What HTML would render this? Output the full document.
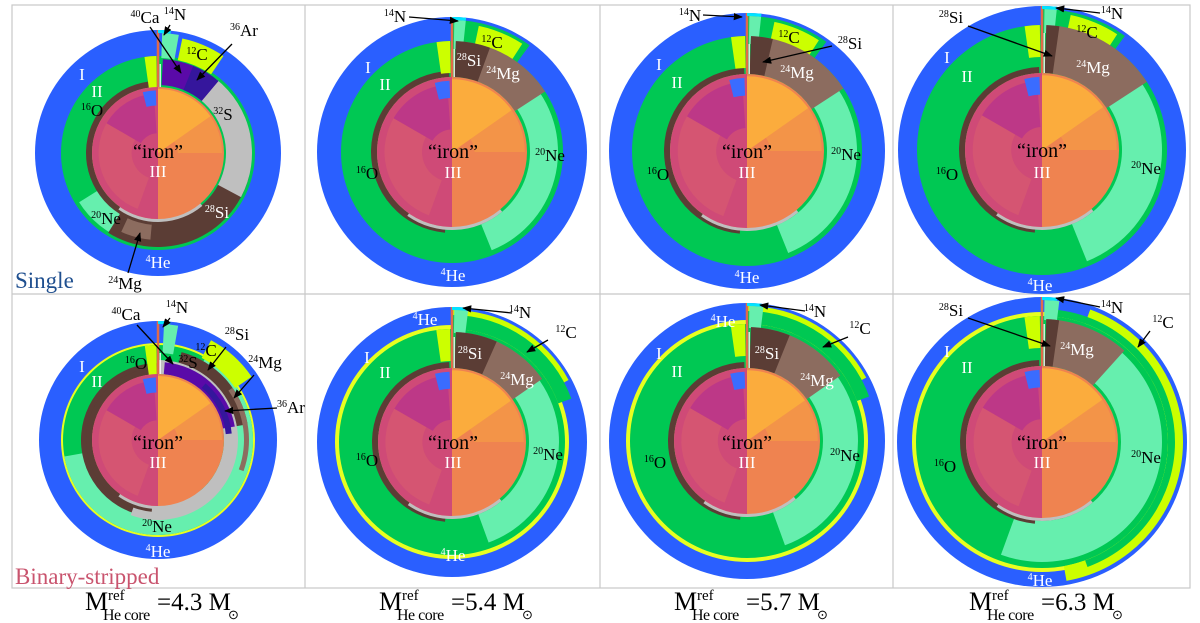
<!DOCTYPE html>
<html><head><meta charset="utf-8"><style>
html,body{margin:0;padding:0;background:#fff;}
svg{display:block;font-family:"Liberation Serif",serif;}
</style></head><body>
<svg id="fig" width="1200" height="623" viewBox="0 0 1200 623" xmlns="http://www.w3.org/2000/svg">
<defs><marker id="ah" viewBox="0 0 10 10" refX="9" refY="5" markerWidth="7" markerHeight="7" orient="auto"><path d="M0,1 L10,5 L0,9 Z" fill="#000"/></marker></defs>
<g id="frame" stroke="#c8c8c8" stroke-width="1.2" fill="none">
<rect x="12" y="5" width="1178" height="583"/>
<line x1="12" y1="294" x2="1190" y2="294"/>
<line x1="305" y1="5" x2="305" y2="588"/>
<line x1="600" y1="5" x2="600" y2="588"/>
<line x1="893" y1="5" x2="893" y2="588"/>
</g>
<g id="panels"></g>
<g id="labels" font-size="16"></g>
<text x="15" y="288" font-size="23" fill="#1f4f8f">Single</text>
<text x="15" y="584" font-size="23" fill="#c9546e">Binary-stripped</text>
<g id="masses"></g>
</svg>
<script>
// data
const heCoreMass = [4.3, 5.4, 5.7, 6.3];
const rowNames = ['single', 'binary'];
const panelCx = [158, 452, 747, 1042];
const panelCyTop = [153, 152, 151, 150];
const panelCyBot = [440, 442, 441, 442];
const blueR = [[123, 135, 138, 144], [119, 135, 138, 145]];
const greenR = [[97, 111, 115, 125], [95, 113, 117, 126]];
const ironR = [[66, 75, 77, 77], [66, 74, 73, 76]];

const NS = 'http://www.w3.org/2000/svg';
const C = {blue:'#2a5fff',green:'#00c853',mint:'#66efae',yg:'#ccff00',mg:'#8c6c5f',si:'#5b3d35',grey:'#bfbfbf',pur:'#5a0aa8',pur2:'#35169c',or:'#ef8350',yel:'#fdb43a',pink:'#cf4a77',mag:'#b5318f',cyan:'#00e5ff',y2:'#e8ff20'};
const panelsG = document.getElementById('panels');
function pt(cx,cy,r,a){const t=a*Math.PI/180;return [cx+r*Math.sin(t),cy-r*Math.cos(t)];}
function sector(g,cx,cy,r0,r1,a0,a1,col,name,op){
  const big=(a1-a0)>180?1:0;
  const p1=pt(cx,cy,r1,a0),p2=pt(cx,cy,r1,a1),p3=pt(cx,cy,r0,a1),p4=pt(cx,cy,r0,a0);
  let d=`M${p1[0]},${p1[1]} A${r1},${r1} 0 ${big} 1 ${p2[0]},${p2[1]} L${p3[0]},${p3[1]}`;
  if(r0>0) d+=` A${r0},${r0} 0 ${big} 0 ${p4[0]},${p4[1]}`;
  d+='Z';
  const e=document.createElementNS(NS,'path');
  e.setAttribute('d',d);e.setAttribute('fill',col);
  if(op) e.setAttribute('fill-opacity',op);
  
  
  g.appendChild(e);
}
function circ(g,cx,cy,r,col,name){
  const e=document.createElementNS(NS,'circle');
  e.setAttribute('cx',cx);e.setAttribute('cy',cy);e.setAttribute('r',r);e.setAttribute('fill',col);
  
  
  g.appendChild(e);
}
function iron(g,cx,cy,F){
  circ(g,cx,cy,F,C.or,'iron-core');
  sector(g,cx,cy,0,F,180,360,C.pink,'iron-left-half');
  sector(g,cx,cy,0,F*0.97,0,55,C.yel,'iron-top-right',0.85);
  sector(g,cx,cy,F*0.3,F*0.97,55,90,C.yel,'iron-right-mid',0.35);
  sector(g,cx,cy,F*0.3,F*0.9,300,356,C.mag,'iron-magenta',0.7);
  sector(g,cx,cy,F*0.4,F*0.9,200,300,'#e06a6a','iron-lower-left',0.35);
  sector(g,cx,cy,F*0.72,F*0.95,346,358,'#3a6cff','iron-blue-sliver');
}
for(let row=0;row<2;row++){
  for(let i=0;i<4;i++){
    const g=document.createElementNS(NS,'g');
    
    
    panelsG.appendChild(g);
    const cx=panelCx[i], cy=row?panelCyBot[i]:panelCyTop[i];
    const R=blueR[row][i], G=greenR[row][i], F=ironR[row][i];
    circ(g,cx,cy,R,C.blue,'helium-shell');
    if(row===1 && i>0){ circ(g,cx,cy,G+4,C.y2,'yellow-boundary-ring'); }
    if(row===1 && i===0){ circ(g,cx,cy,G+2,C.y2,'yellow-boundary-ring'); }
    circ(g,cx,cy,G,C.green,'oxygen-shell');
    if(row===0 && i>0){
      sector(g,cx,cy,G-6,R-3,0,36,C.green,'green-top-bulge');
      sector(g,cx,cy,G-8,R-3,1,6,C.mint,'mint-top-strip');
      sector(g,cx,cy,G-8,R-6,12,33,C.yg,'carbon-patch');
      sector(g,cx,cy,F+3,G-5,45,158,C.mint,'neon-region');
      sector(g,cx,cy,F,G,2,57,C.mg,'magnesium-region');
      sector(g,cx,cy,F,G,2,i===1?20:(i===2?13:8),C.si,'silicon-region');
    }
    if(row===1 && i>0){
      if(i===3){ sector(g,cx,cy,G,R-4,20,170,C.yg,'carbon-bulge'); sector(g,cx,cy,G,R-12,5,160,C.green,'green-bulge'); }
      else { sector(g,cx,cy,G,R-3,0,62,C.yg,'carbon-bulge'); sector(g,cx,cy,G,R-8,0,70,C.green,'green-bulge'); }
      sector(g,cx,cy,G-4,R-3,1,7,C.mint,'mint-top-strip');
      sector(g,cx,cy,F+3,G-6,40,i===3?200:160,C.mint,'neon-region');
      sector(g,cx,cy,F,G-3,2,i===3?42:55,C.mg,'magnesium-region');
      sector(g,cx,cy,F,G-3,2,i===1?24:(i===2?22:8),C.si,'silicon-region');
    }
    if(row===0 && i===0){
      sector(g,cx,cy,G-2,R-3,2,10,C.mint,'mint-top-strip');
      sector(g,cx,cy,G-2,R-6,12,34,C.yg,'carbon-patch');
      sector(g,cx,cy,F+2,G-4,200,238,C.mint,'neon-region');
      sector(g,cx,cy,F+2,G-3,105,212,C.si,'silicon-region');
      sector(g,cx,cy,F+2,G-10,185,205,C.mg,'magnesium-region');
      sector(g,cx,cy,F+2,G-3,38,118,C.grey,'sulfur-region');
      sector(g,cx,cy,F+2,G-3,3,40,C.pur,'calcium-region');
      sector(g,cx,cy,F+2,G-3,22,40,C.pur2,'argon-region');
    }
    if(row===1 && i===0){
      sector(g,cx,cy,G-20,G,30,260,C.mint,'neon-region');
      sector(g,cx,cy,G-8,R-3,3,10,C.mint,'mint-top-strip');
      sector(g,cx,cy,G-2,R-6,28,56,C.yg,'carbon-patch');
      sector(g,cx,cy,F,G-18,190,360,C.si,'silicon-ring-left');
      sector(g,cx,cy,F,G-4,15,80,C.si,'silicon-region');
      sector(g,cx,cy,F+20,G-4,55,110,C.mg,'magnesium-region');
      sector(g,cx,cy,F,F+14,0,200,C.grey,'sulfur-ring');
      sector(g,cx,cy,F,F+12,5,80,C.pur,'calcium-region');
      sector(g,cx,cy,F+2,F+8,40,85,C.pur2,'argon-region');
    }
    sector(g,cx,cy,F,F+6,185,358,C.si,'silicon-thin-ring');
    sector(g,cx,cy,F-1,F+3,140,215,C.grey,'sulfur-thin-ring');
    sector(g,cx,cy,G-32,G,352,359,C.yg,'carbon-left-strip');
    iron(g,cx,cy,F);
    const l=document.createElementNS(NS,'line');
    l.setAttribute('x1',cx);l.setAttribute('y1',cy-F);l.setAttribute('x2',cx);l.setAttribute('y2',cy-R);
    l.setAttribute('stroke','#e06a4a');l.setAttribute('stroke-width','2.5');
    
    
    g.appendChild(l);
    const l2=document.createElementNS(NS,'line');
    l2.setAttribute('x1',cx+2.2);l2.setAttribute('y1',cy-F);l2.setAttribute('x2',cx+2.2);l2.setAttribute('y2',cy-G+8);
    l2.setAttribute('stroke','#fff');l2.setAttribute('stroke-width','1.2');
    
    
    g.appendChild(l2);
    sector(g,cx,cy,R-3,R,0,6,C.cyan,'nitrogen-tip');
  }
}
// labels: [x, y, sup, main, color]
const labelList = [
 [82,80,'','I','#fff'],[97,97,'','II','#fff'],[92,116,'16','O','#000'],[158,158,'','“iron”','#000'],[158,177,'','III','#fff'],
 [223,120,'32','S','#000'],[217,218,'28','Si','#fff'],[106,224,'20','Ne','#000'],[158,268,'4','He','#fff'],[125,289,'24','Mg','#000'],
 [145,23,'40','Ca','#000'],[175,20,'14','N','#000'],[244,36,'36','Ar','#000'],[197,60,'12','C','#000'],
 [395,22,'14','N','#000'],[492,48,'12','C','#000'],[469,66,'28','Si','#fff'],[503,79,'24','Mg','#fff'],[550,161,'20','Ne','#000'],
 [367,179,'16','O','#000'],[368,73,'','I','#fff'],[385,90,'','II','#fff'],[453,158,'','“iron”','#000'],[453,178,'','III','#fff'],[453,281,'4','He','#fff'],
 [690,21,'14','N','#000'],[789,43,'12','C','#000'],[850,49,'28','Si','#000'],[797,78,'24','Mg','#fff'],[846,160,'20','Ne','#000'],
 [658,180,'16','O','#000'],[659,70,'','I','#fff'],[677,88,'','II','#fff'],[747,158,'','“iron”','#000'],[747,178,'','III','#fff'],[747,283,'4','He','#fff'],
 [951,23,'28','Si','#000'],[1112,19,'14','N','#000'],[1087,38,'12','C','#000'],[1093,73,'24','Mg','#fff'],[1146,174,'20','Ne','#000'],
 [947,180,'16','O','#000'],[947,63,'','I','#fff'],[967,82,'','II','#fff'],[1042,157,'','“iron”','#000'],[1042,178,'','III','#fff'],[1040,291,'4','He','#fff'],
 [126,320,'40','Ca','#000'],[177,313,'14','N','#000'],[237,340,'28','Si','#000'],[206,356,'12','C','#000'],[188,368,'32','S','#000'],
 [265,368,'24','Mg','#000'],[291,413,'36','Ar','#000'],[136,369,'16','O','#000'],[82,372,'','I','#fff'],[97,387,'','II','#fff'],
 [158,449,'','“iron”','#000'],[158,468,'','III','#fff'],[157,532,'20','Ne','#000'],[158,557,'4','He','#fff'],
 [425,325,'4','He','#fff'],[520,318,'14','N','#000'],[566,338,'12','C','#000'],[470,359,'28','Si','#fff'],[517,385,'24','Mg','#fff'],
 [548,460,'20','Ne','#000'],[367,466,'16','O','#000'],[367,363,'','I','#fff'],[385,378,'','II','#fff'],[453,449,'','“iron”','#000'],[453,468,'','III','#fff'],[453,561,'4','He','#fff'],
 [723,327,'4','He','#fff'],[815,317,'14','N','#000'],[860,334,'12','C','#000'],[767,359,'28','Si','#fff'],[817,386,'24','Mg','#fff'],
 [845,461,'20','Ne','#000'],[655,468,'16','O','#000'],[659,359,'','I','#fff'],[677,377,'','II','#fff'],[747,449,'','“iron”','#000'],[747,468,'','III','#fff'],
 [951,316,'28','Si','#000'],[1112,313,'14','N','#000'],[1163,328,'12','C','#000'],[1077,355,'24','Mg','#fff'],[1146,463,'20','Ne','#000'],
 [945,472,'16','O','#000'],[947,357,'','I','#fff'],[967,373,'','II','#fff'],[1042,449,'','“iron”','#000'],[1042,468,'','III','#fff'],[1040,586,'4','He','#fff']
];
// arrows: [x1,y1,x2,y2]
const arrowList = [
 [150,27,181,73],[170,25,164,35],[232,44,197,80],[128,273,140,233],
 [409,17,458,21],[703,15,742,17],[832,46,763,62],[1100,13,1056,8],[968,26,1052,56],
 [137,325,173,364],[170,318,163,327],[226,347,208,370],[254,375,234,398],[277,408,225,411],
 [512,313,463,308],[548,340,527,352],[805,311,760,305],[848,337,823,347],[1100,307,1056,298],[968,318,1050,346],[1150,331,1138,347]
];
const lab=document.getElementById('labels');
labelList.forEach(L=>{
  const t=document.createElementNS(NS,'text');
  t.setAttribute('x',L[0]);t.setAttribute('y',L[1]);t.setAttribute('fill',L[4]);t.setAttribute('text-anchor','middle');
  t.setAttribute('font-size', L[3]==='“iron”'?'20':'17');
  
  
  if(L[2]){ t.innerHTML=`<tspan font-size="10" dy="-6">${L[2]}</tspan><tspan dy="6">${L[3]}</tspan>`; }
  else t.textContent=L[3];
  lab.appendChild(t);
});
arrowList.forEach(A=>{
  const l=document.createElementNS(NS,'line');
  l.setAttribute('x1',A[0]);l.setAttribute('y1',A[1]);l.setAttribute('x2',A[2]);l.setAttribute('y2',A[3]);
  l.setAttribute('stroke','#000');l.setAttribute('stroke-width','1.3');l.setAttribute('marker-end','url(#ah)');
  
  
  lab.appendChild(l);
});
const mg=document.getElementById('masses');
heCoreMass.forEach((m,i)=>{
  const x0=panelCx[i]-73;
  const g=document.createElementNS(NS,'g');
  
  
  g.innerHTML=`<text x="${x0}" y="610" font-size="26">M</text>`+
   `<text x="${x0+23}" y="600" font-size="15">ref</text>`+
   `<text x="${x0+18}" y="620" font-size="16" letter-spacing="-0.5">He core</text>`+
   `<text x="${x0+72}" y="610" font-size="25">=${m.toFixed(1)} M</text>`+
   `<text x="${x0+143}" y="619" font-size="13">⊙</text>`;
  mg.appendChild(g);
});
</script>
</body></html>
